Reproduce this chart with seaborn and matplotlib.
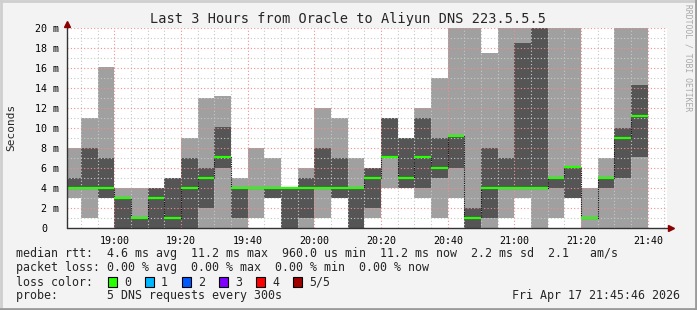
import matplotlib
matplotlib.use("Agg")
import matplotlib.pyplot as plt
import matplotlib.transforms as mtransforms
import seaborn as sns
import numpy as np
import pandas as pd
from matplotlib.patches import Rectangle
from matplotlib.lines import Line2D

# ---- data (minutes after 18:00, 5-minute bins) ----
bin_start = [45, 50, 55, 60, 65, 70, 75, 80, 85, 90, 95, 100, 105, 110, 115, 120, 125,
             130, 135, 140, 145, 150, 155, 160, 165, 170, 175, 180, 185, 190, 195, 200,
             205, 210, 215]
# sorted pings (ms): p1 <= p2 <= median <= p4 <= p5
ping1 = [3, 1, 3, 0, 0, 0, 0, 0, 0, 0, 0, 1, 3, 0, 0, 1, 3, 0, 1, 4, 4, 3, 1, 3, 0, 0,
         1, 3, 0, 1, 3, 0, 0, 0, 0]
ping2 = [4, 4, 3, 0, 0, 0, 0, 0, 2, 6, 1, 4, 3, 0, 1, 4, 3, 0, 2, 7.1, 4, 4, 5, 6, 0, 1,
         4, 4, 4, 4, 3, 1, 4, 5, 7.1]
median = [4, 4, 4, 3, 1, 3, 1, 4, 5, 7.1, 4, 4, 4, 4, 4, 4, 4, 4, 5, 7.1, 5, 7.1, 6, 9.2,
          1, 4, 4, 4, 4, 5, 6.1, 1, 5, 9, 11.2]
ping4 = [5, 8, 7, 3, 1, 4, 5, 7, 6, 10.1, 4, 4, 4, 4, 5, 8, 7, 4, 6, 11, 9, 11, 9, 9.2,
         2, 8, 7, 18.5, 25, 5, 6.1, 1, 5, 10, 14.3]
ping5 = [8, 11, 16.1, 4, 4, 4, 5, 9, 13, 13.2, 5, 8, 7, 4, 6, 12, 11, 7, 6, 11, 9, 12, 15,
         25, 25, 17.5, 25, 25, 25, 25, 25, 4, 7, 25, 25]

tick_minutes = [60, 80, 100, 120, 140, 160, 180, 200, 220]
tick_labels = ["19:00", "19:20", "19:40", "20:00", "20:20", "20:40", "21:00", "21:20", "21:40"]
ytick_values = [0, 2, 4, 6, 8, 10, 12, 14, 16, 18, 20]
ytick_labels = ["0", "2 m", "4 m", "6 m", "8 m", "10 m", "12 m", "14 m", "16 m", "18 m", "20 m"]

loss_labels = ["0", "1", "2", "3", "4", "5/5"]
loss_colors = ["#26ff00", "#00b8ff", "#0059ff", "#7e00ff", "#ff0000", "#a00000"]

title = "Last 3 Hours from Oracle to Aliyun DNS 223.5.5.5"
row1 = "median rtt:  4.6 ms avg  11.2 ms max  960.0 us min  11.2 ms now  2.2 ms sd  2.1   am/s"
row2 = "packet loss: 0.00 % avg  0.00 % max  0.00 % min  0.00 % now"
row3 = "loss color:"
row4 = "probe:       5 DNS requests every 300s"
stamp = "Fri Apr 17 21:45:46 2026"

# ---- style ----
sns.set_theme(style="white")
plt.rcParams["font.family"] = ["DejaVu Sans Mono", "DejaVu Sans"]

W, H = 697, 310
fig = plt.figure(figsize=(W / 100, H / 100), dpi=100)
BG = "#f3f3f3"
fig.patch.set_facecolor(BG)

def fx(x):
    return x / W

def fy(y):
    return 1 - y / H

ax = fig.add_axes([fx(67), fy(228), 600 / W, 200 / H])
ax.set_facecolor("white")
x0, x1 = 45.77, 225.77
ax.set_xlim(x0, x1)
ax.set_ylim(0, 20)
for s in ax.spines.values():
    s.set_visible(False)

df = pd.DataFrame({"start": bin_start, "p1": ping1, "p2": ping2, "med": median,
                   "p4": ping4, "p5": ping5})
LIGHT = "#a0a0a0"
DARK = "#555555"
ax.bar(df["start"], df["p5"] - df["p1"], bottom=df["p1"], width=5, align="edge",
       color=LIGHT, linewidth=0, zorder=2)
ax.bar(df["start"], df["p4"] - df["p2"], bottom=df["p2"], width=5, align="edge",
       color=DARK, linewidth=0, zorder=2.1)

# grid
dot = (0, (1, 2))
for v in range(1, 20, 2):
    ax.axhline(v, color="#c8c8c8", lw=0.8, ls=dot, zorder=2.5)
for v in range(2, 21, 2):
    ax.axhline(v, color="#f09090", lw=0.8, ls=dot, zorder=2.6)
for m in range(50, 226, 5):
    if m % 20 == 0:
        ax.axvline(m, color="#f09090", lw=0.8, ls=dot, zorder=2.6)
    else:
        ax.axvline(m, color="#c8c8c8", lw=0.8, ls=dot, zorder=2.5)

# median: dotted step connectors + green segments
step_x = list(df["start"]) + [df["start"].iloc[-1] + 5]
step_y = list(df["med"]) + [df["med"].iloc[-1]]
sdf = pd.DataFrame({"x": step_x, "y": step_y})
sns.lineplot(data=sdf, x="x", y="y", ax=ax, drawstyle="steps-post", color="#111111",
             lw=0.8, ls=(0, (1, 1)), zorder=3, estimator=None, sort=False)
ax.hlines(df["med"], df["start"], df["start"] + 5, colors=loss_colors[0], lw=1.6,
          zorder=3.5)

ax.set_xlabel("")
ax.set_ylabel("")
ax.set_xticks(tick_minutes)
ax.set_xticklabels(tick_labels)
ax.set_xticks(list(range(50, 226, 5)), minor=True)
ax.set_yticks(ytick_values)
ax.set_yticklabels(ytick_labels)
ax.tick_params(axis="both", which="major", labelsize=7.2, colors="#333333",
               labelcolor="black", length=2, width=0.8, direction="out")
ax.tick_params(axis="x", which="major", pad=2.5, length=3)
ax.tick_params(axis="y", which="major", pad=3.5)
ax.tick_params(axis="x", which="minor", length=1.5, width=0.7, colors="#333333")

# rrdtool puts the bare "0" in the number column, not flush right
zero_lab = ax.get_yticklabels()[0]
zero_lab.set_transform(zero_lab.get_transform() +
                       mtransforms.ScaledTranslation(-0.12, 0, fig.dpi_scale_trans))

# axis lines with arrows
fig.add_artist(Line2D([fx(67), fx(67)], [fy(228), fy(24)], color="#333333", lw=1))
fig.add_artist(Line2D([fx(67), fx(670)], [fy(228), fy(228)], color="#333333", lw=1))
fig.add_artist(Line2D([fx(67)], [fy(24)], marker="^", ms=5, color="#8b0000", lw=0))
fig.add_artist(Line2D([fx(671)], [fy(228)], marker=">", ms=5, color="#8b0000", lw=0))

# texts
fig.text(fx(348), fy(19), title, ha="center", va="center", fontsize=9.8)
fig.text(fx(11), fy(127), "Seconds", ha="center", va="center", rotation=90, fontsize=8)
fig.text(fx(688), fy(58), "RRDTOOL / TOBI OETIKER", ha="center", va="center",
         rotation=-90, fontsize=5.8, color="#a8a8a8")

LF = 8.35
fig.text(fx(16), fy(254), row1, ha="left", va="center", fontsize=LF)
fig.text(fx(16), fy(268), row2, ha="left", va="center", fontsize=LF)
fig.text(fx(16), fy(282), row3, ha="left", va="center", fontsize=LF)
fig.text(fx(16), fy(296), row4, ha="left", va="center", fontsize=LF)
fig.text(fx(680), fy(296), stamp, ha="right", va="center", fontsize=LF)

box_x = [108, 145, 182, 219, 256, 293]
for bx, lab, col in zip(box_x, loss_labels, loss_colors):
    fig.add_artist(Rectangle((fx(bx), fy(287)), 9 / W, 10 / H, facecolor=col,
                             edgecolor="black", lw=0.8, transform=fig.transFigure))
    fig.text(fx(bx + 16), fy(282), lab, ha="left", va="center", fontsize=LF)

# frame border
fig.add_artist(Line2D([0, 1], [1 - 1 / H, 1 - 1 / H], color="#cfcfcf", lw=2))
fig.add_artist(Line2D([1 / W, 1 / W], [0, 1], color="#cfcfcf", lw=2))
fig.add_artist(Line2D([0, 1], [1 / H, 1 / H], color="#9a9a9a", lw=2))
fig.add_artist(Line2D([1 - 1 / W, 1 - 1 / W], [0, 1], color="#9a9a9a", lw=2))

fig.savefig("out.png", dpi=100, facecolor=BG)
